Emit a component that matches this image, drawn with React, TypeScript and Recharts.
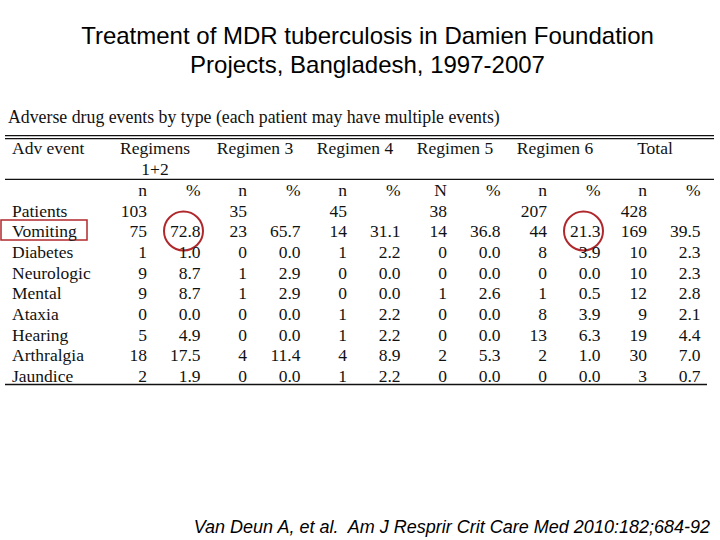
import React from 'react';
import { ScatterChart, Scatter, XAxis, YAxis, Customized } from 'recharts';

// rows and column groups of the table
const events = ['Patients', 'Vomiting', 'Diabetes', 'Neurologic', 'Mental', 'Ataxia', 'Hearing', 'Arthralgia', 'Jaundice'];
const regimens = ['Regimens 1+2', 'Regimen 3', 'Regimen 4', 'Regimen 5', 'Regimen 6', 'Total'];
const countLabels = ['n', 'n', 'n', 'N', 'n', 'n'];

// n and % per regimen (null = empty cell)
const reg12N = [103, 75, 1, 9, 9, 0, 5, 18, 2];
const reg12Pct = [null, 72.8, 1.0, 8.7, 8.7, 0.0, 4.9, 17.5, 1.9];
const reg3N = [35, 23, 0, 1, 1, 0, 0, 4, 0];
const reg3Pct = [null, 65.7, 0.0, 2.9, 2.9, 0.0, 0.0, 11.4, 0.0];
const reg4N = [45, 14, 1, 0, 0, 1, 1, 4, 1];
const reg4Pct = [null, 31.1, 2.2, 0.0, 0.0, 2.2, 2.2, 8.9, 2.2];
const reg5N = [38, 14, 0, 0, 1, 0, 0, 2, 0];
const reg5Pct = [null, 36.8, 0.0, 0.0, 2.6, 0.0, 0.0, 5.3, 0.0];
const reg6N = [207, 44, 8, 0, 1, 8, 13, 2, 0];
const reg6Pct = [null, 21.3, 3.9, 0.0, 0.5, 3.9, 6.3, 1.0, 0.0];
const totalN = [428, 169, 10, 10, 12, 9, 19, 30, 3];
const totalPct = [null, 39.5, 2.3, 2.3, 2.8, 2.1, 4.4, 7.0, 0.7];

// annotations drawn on the slide
const boxedEvent = 'Vomiting';
const circledCells = ['Regimens 1+2|Vomiting', 'Regimen 6|Vomiting'];

const nCols = [reg12N, reg3N, reg4N, reg5N, reg6N, totalN];
const pctCols = [reg12Pct, reg3Pct, reg4Pct, reg5Pct, reg6Pct, totalPct];

const rows = regimens.flatMap((regimen, g) =>
  events.map((event, i) => ({
    regimen,
    event,
    n: nCols[g][i],
    pct: pctCols[g][i],
  }))
);

const SERIF = '"Liberation Serif", "Times New Roman", serif';
const SANS = '"Liberation Sans", Arial, sans-serif';
const RED = '#b0282c';
const FS = 17.5;

const N_OFFSET = -8;
const PCT_OFFSET = 45.5;

function NCell(props: any) {
  const { cx, cy, payload } = props;
  if (payload.n == null) return <g />;
  return (
    <text x={cx + N_OFFSET} y={cy} dy="0.36em" textAnchor="end" fontFamily={SERIF} fontSize={FS} fill="#111">
      {payload.n}
    </text>
  );
}

function PctCell(props: any) {
  const { cx, cy, payload } = props;
  if (payload.pct == null) return <g />;
  const circled = circledCells.includes(payload.regimen + '|' + payload.event);
  const x = cx + PCT_OFFSET;
  return (
    <g>
      <text x={x} y={cy} dy="0.36em" textAnchor="end" fontFamily={SERIF} fontSize={FS} fill="#111">
        {payload.pct.toFixed(1)}
      </text>
      {circled && <circle cx={x - 17} cy={cy} r={19.5} fill="none" stroke={RED} strokeWidth={2} />}
    </g>
  );
}

function EventTick(props: any) {
  const { y, payload } = props;
  const boxed = payload.value === boxedEvent;
  return (
    <g>
      {boxed && <rect x={1} y={y - 11} width={86} height={20} fill="none" stroke={RED} strokeWidth={1.5} />}
      <text x={12} y={y} dy="0.36em" textAnchor="start" fontFamily={SERIF} fontSize={FS} fill="#111">
        {payload.value}
      </text>
    </g>
  );
}

function RegimenTick(props: any) {
  const { x, payload, index } = props;
  const label: string = payload.value;
  const parts = label === 'Regimens 1+2' ? ['Regimens', '1+2'] : [label];
  return (
    <g fontFamily={SERIF} fontSize={FS} fill="#111">
      <text x={x} y={148} dy="0.36em" textAnchor="middle">{parts[0]}</text>
      {parts[1] && <text x={x} y={169} dy="0.36em" textAnchor="middle">{parts[1]}</text>}
      <text x={x + N_OFFSET} y={190} dy="0.36em" textAnchor="end">{countLabels[index]}</text>
      <text x={x + PCT_OFFSET} y={190} dy="0.36em" textAnchor="end">%</text>
    </g>
  );
}

function Decorations() {
  return (
    <g>
      <text x={367.5} y={35} dy="0.36em" textAnchor="middle" fontFamily={SANS} fontSize={24} fill="#000">
        Treatment of MDR tuberculosis in Damien Foundation
      </text>
      <text x={367.5} y={64} dy="0.36em" textAnchor="middle" fontFamily={SANS} fontSize={24} fill="#000">
        Projects, Bangladesh, 1997-2007
      </text>
      <text x={8} y={116.5} dy="0.36em" fontFamily={SERIF} fontSize={17.8} fill="#111">
        Adverse drug events by type (each patient may have multiple events)
      </text>
      <line x1={5} x2={714} y1={135.7} y2={135.7} stroke="#111" strokeWidth={1.3} />
      <line x1={5} x2={714} y1={138.7} y2={138.7} stroke="#111" strokeWidth={1.3} />
      <text x={12} y={148} dy="0.36em" fontFamily={SERIF} fontSize={FS} fill="#111">Adv event</text>
      <line x1={5} x2={714} y1={179.3} y2={179.3} stroke="#111" strokeWidth={1.3} />
      <line x1={5} x2={707} y1={384.5} y2={384.5} stroke="#111" strokeWidth={1.3} />
      <text
        x={710}
        y={527}
        dy="0.36em"
        textAnchor="end"
        fontFamily={SANS}
        fontStyle="italic"
        fontSize={18}
        fill="#000"
        style={{ whiteSpace: 'pre' }}
      >
        {'Van Deun A, et al.  Am J Resprir Crit Care Med 2010:182;684-92'}
      </text>
    </g>
  );
}

export default function App() {
  return (
    <div style={{ position: 'absolute', left: 0, top: 0, width: 720, height: 540, background: '#fff' }}>
      <ScatterChart width={720} height={540} margin={{ top: 0, right: 15, bottom: 154, left: 0 }}>
        <XAxis
          dataKey="regimen"
          type="category"
          orientation="top"
          height={200}
          allowDuplicatedCategory={false}
          axisLine={false}
          tickLine={false}
          tick={<RegimenTick />}
          interval={0}
        />
        <YAxis
          dataKey="event"
          type="category"
          width={105}
          reversed
          allowDuplicatedCategory={false}
          axisLine={false}
          tickLine={false}
          tick={<EventTick />}
          interval={0}
        />
        <Customized component={Decorations} />
        <Scatter data={rows} name="n" shape={<NCell />} isAnimationActive={false} />
        <Scatter data={rows} name="%" shape={<PctCell />} isAnimationActive={false} />
      </ScatterChart>
    </div>
  );
}
